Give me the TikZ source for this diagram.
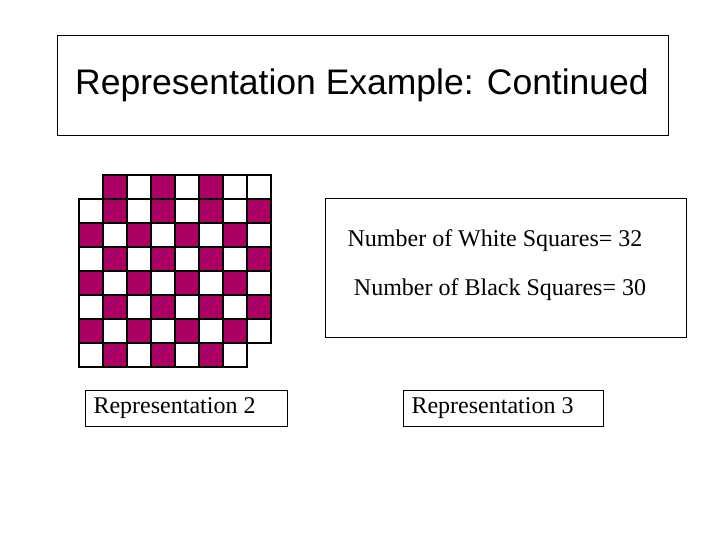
\documentclass[tikz,border=0pt]{standalone}
\usepackage{fontspec}
\setmainfont{Liberation Serif}
\newfontfamily\arialf{Liberation Sans}
\definecolor{mag}{RGB}{170,0,100}
\begin{document}
\begin{tikzpicture}[x=1pt,y=-1pt,
  box/.style={draw,line width=1.3pt,anchor=north west,inner sep=0},
  sq/.style={draw=black,line width=2.5pt}]
\useasboundingbox[fill=white] (0,0) rectangle (720,540);
\node[box,minimum width=611pt,minimum height=100pt] (title) at (57,35) {};
\node at (362,85) {\arialf\fontsize{35.5}{40}\selectfont Representation Example: Continued};
\node[box,minimum width=361pt,minimum height=139pt] (info) at (325,198) {};
\node at (495,241) {\fontsize{24}{28}\selectfont Number of White Squares= 32};
\node at (500,290) {\fontsize{24}{28}\selectfont Number of Black Squares= 30};
\node[box,minimum width=202pt,minimum height=36pt] (r2) at (85,390) {};
\node[anchor=west] at (90,408) {\fontsize{24}{28}\selectfont Representation 2};
\node[box,minimum width=200pt,minimum height=36pt] (r3) at (403,390) {};
\node[anchor=west] at (408,408) {\fontsize{24}{28}\selectfont Representation 3};
\foreach \r in {0,...,7}{
  \foreach \c in {0,...,7}{
    \pgfmathtruncatemacro\skip{(\r==0 && \c==0) || (\r==7 && \c==7)}
    \ifnum\skip=0
      \ifnum\r=0
        \pgfmathtruncatemacro\m{(mod(\c,2)==1 && \c<7)}
      \else
        \pgfmathtruncatemacro\m{1-mod(\r+\c,2)}
      \fi
      \ifnum\m=1 \def\fc{mag}\else\def\fc{white}\fi
      \filldraw[sq,fill=\fc] (79+24*\c,175+24*\r) rectangle ++(24,24);
    \fi
  }
}
\end{tikzpicture}
\end{document}
